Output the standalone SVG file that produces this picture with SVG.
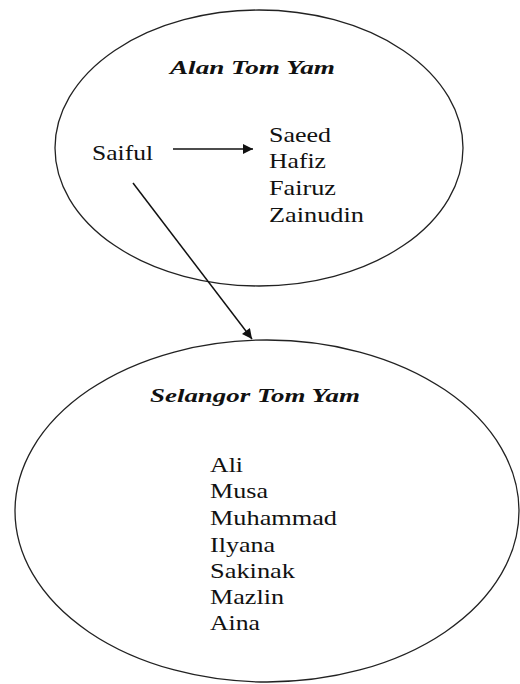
<svg xmlns="http://www.w3.org/2000/svg" width="520" height="684" viewBox="0 0 520 684">
  <style>
    .oval { fill: none; stroke: #222; stroke-width: 1.3; }
    .link { fill: none; stroke: #111; stroke-width: 1.5; }
    text { font-family: "Liberation Serif", "Times New Roman", serif; fill: #111; }
    .title { font-size: 18px; font-weight: bold; font-style: italic; }
    .name { font-size: 21px; }
  </style>
  <defs>
    <marker id="head" viewBox="0 0 10 10" refX="10" refY="5" markerWidth="12" markerHeight="10" markerUnits="userSpaceOnUse" orient="auto">
      <path d="M0,0 L10,5 L0,10 z" fill="#111"/>
    </marker>
  </defs>
  <rect width="520" height="684" fill="#fff"/>

  <!-- upper group -->
  <g id="alan-tom-yam">
    <ellipse class="oval" cx="259" cy="148" rx="204" ry="138"/>
    <text class="title" x="170" y="74" textLength="165" lengthAdjust="spacingAndGlyphs">Alan Tom Yam</text>
    <text class="name" x="92" y="160" textLength="61" lengthAdjust="spacingAndGlyphs">Saiful</text>
    <text class="name" x="269" y="142" textLength="62" lengthAdjust="spacingAndGlyphs">Saeed</text>
    <text class="name" x="269" y="168" textLength="57" lengthAdjust="spacingAndGlyphs">Hafiz</text>
    <text class="name" x="269" y="195" textLength="67" lengthAdjust="spacingAndGlyphs">Fairuz</text>
    <text class="name" x="269" y="222" textLength="95" lengthAdjust="spacingAndGlyphs">Zainudin</text>
  </g>

  <!-- lower group -->
  <g id="selangor-tom-yam">
    <ellipse class="oval" cx="267" cy="511" rx="252" ry="171"/>
    <text class="title" x="150" y="402" textLength="210" lengthAdjust="spacingAndGlyphs">Selangor Tom Yam</text>
    <text class="name" x="210" y="472" textLength="33" lengthAdjust="spacingAndGlyphs">Ali</text>
    <text class="name" x="210" y="498" textLength="58" lengthAdjust="spacingAndGlyphs">Musa</text>
    <text class="name" x="210" y="525" textLength="127" lengthAdjust="spacingAndGlyphs">Muhammad</text>
    <text class="name" x="210" y="552" textLength="65" lengthAdjust="spacingAndGlyphs">Ilyana</text>
    <text class="name" x="210" y="578" textLength="85" lengthAdjust="spacingAndGlyphs">Sakinak</text>
    <text class="name" x="210" y="604" textLength="74" lengthAdjust="spacingAndGlyphs">Mazlin</text>
    <text class="name" x="210" y="630" textLength="50" lengthAdjust="spacingAndGlyphs">Aina</text>
  </g>

  <g id="connectors">
    <line class="link" x1="173" y1="149" x2="253" y2="149" marker-end="url(#head)"/>
    <line class="link" x1="133" y1="183" x2="252" y2="339" marker-end="url(#head)"/>
  </g>
</svg>
